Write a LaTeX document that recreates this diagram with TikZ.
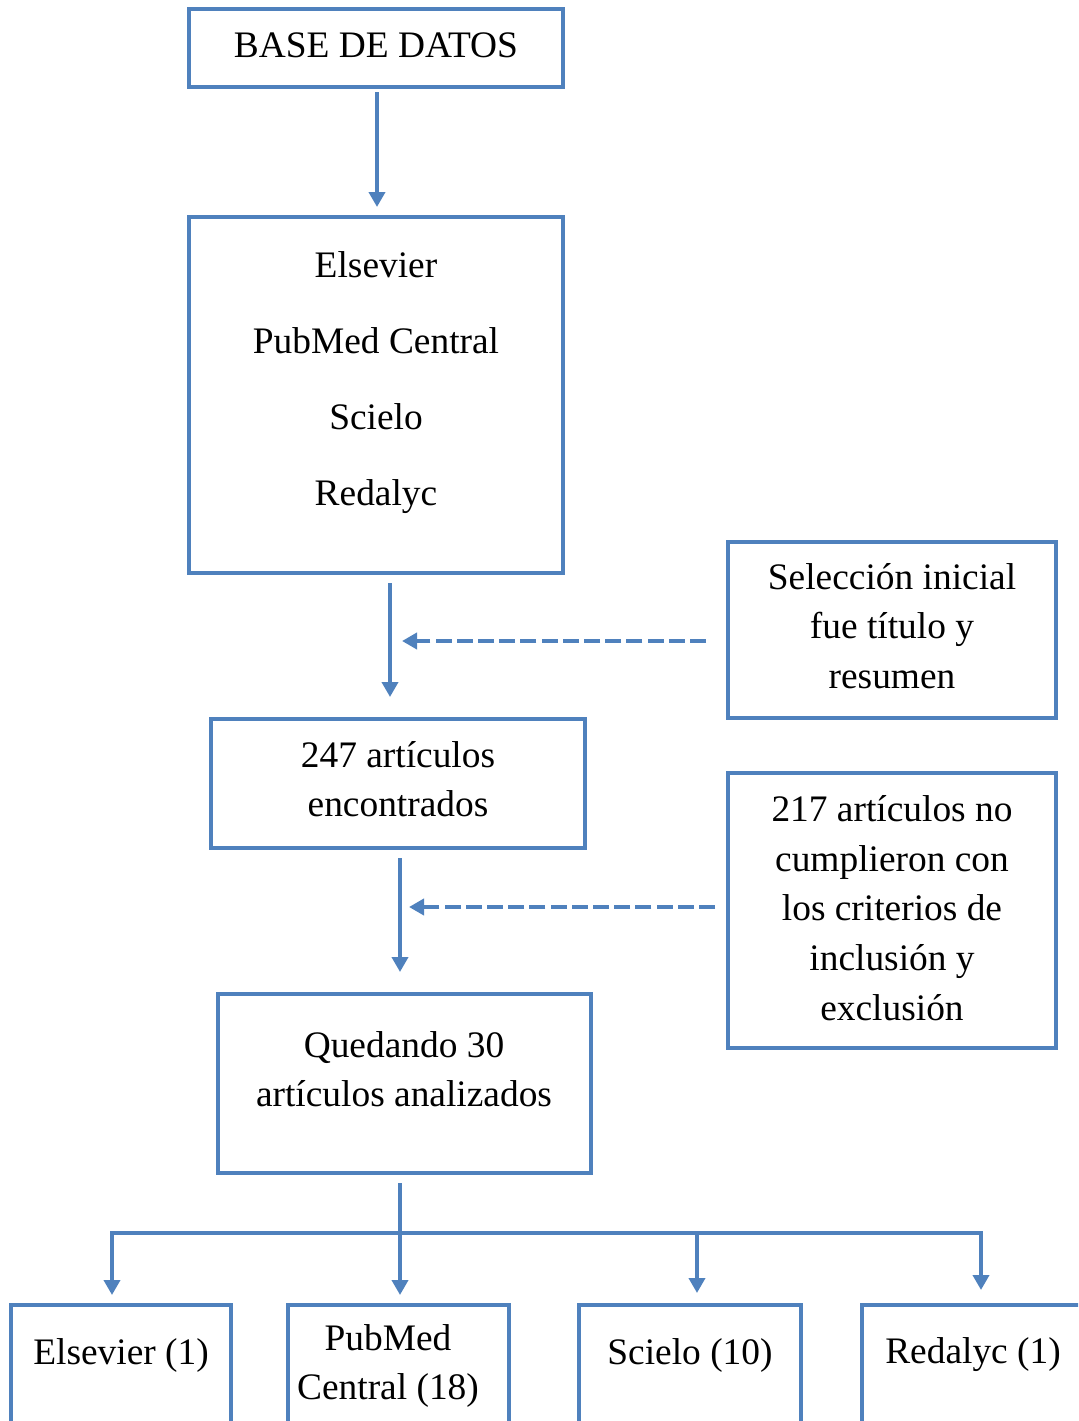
\documentclass[tikz,border=0pt]{standalone}
\usepackage{fontspec}
\setmainfont{Liberation Serif}
\usetikzlibrary{arrows.meta,calc}
\definecolor{boxblue}{RGB}{79,129,189}
\begin{document}
\begin{tikzpicture}[x=0.5pt,y=-0.5pt,
  box/.style={draw=boxblue,line width=2pt,rectangle,inner sep=0pt,outer sep=0pt,fill=white},
  txt/.style={align=center,font=\fontsize{18.7}{24.8}\selectfont,inner sep=0pt},
  conn/.style={draw=boxblue,line width=2pt},
  arr/.style={conn,-{Triangle[width=8pt,length=7.5pt]}},
  darr/.style={conn,line width=2.3pt,dash pattern=on 8pt off 2.6pt,-{Triangle[width=8pt,length=7.5pt]}}
]
\useasboundingbox (0,0) rectangle (1078,1421);
\clip (0,0) rectangle (1078,1421);

% boxes
\node[box,minimum width=187pt,minimum height=39pt] (base) at (376,48) {};
\node[box,minimum width=187pt,minimum height=178pt] (db) at (376,395) {};
\node[box,minimum width=164pt,minimum height=88pt] (sel) at (892,630) {};
\node[box,minimum width=187pt,minimum height=64.5pt] (n247) at (398,783.5) {};
\node[box,minimum width=164pt,minimum height=137.5pt] (crit) at (892,910.5) {};
\node[box,minimum width=186.5pt,minimum height=89.5pt] (qd) at (404.5,1083.5) {};
\node[box,minimum width=110pt,minimum height=90pt] (b1) at (121,1395) {};
\node[box,minimum width=110.5pt,minimum height=90pt] (b2) at (398.5,1395) {};
\node[box,minimum width=111pt,minimum height=90pt] (b3) at (690,1395) {};
\node[box,minimum width=111pt,minimum height=90pt] (b4) at (973,1395) {};

% texts
\node[txt] (tbase) at (376,45) {BASE DE DATOS};
\node[txt,font=\fontsize{18.7}{38}\selectfont] (tdb) at (376,383) {Elsevier\\PubMed Central\\Scielo\\Redalyc};
\node[txt] (tsel) at (892,626) {Selección inicial\\fue título y\\resumen};
\node[txt] (t247) at (398,779) {247 artículos\\encontrados};
\node[txt] (tcrit) at (892,908) {217 artículos no\\cumplieron con\\los criterios de\\inclusión y\\exclusión};
\node[txt] (tqd) at (404,1069) {Quedando 30\\artículos analizados};
\node[txt] (tb1) at (121,1355) {Elsevier (1)};
\node[txt] (tb2) at (388,1366) {PubMed\\Central (18)};
\node[txt] (tb3) at (690,1355) {Scielo (10)};
\node[txt] (tb4) at (973,1355) {Redalyc (1)};

% connectors
\draw[arr] ($(base.south)+(1,5)$) -- ($(db.north)+(1,-10)$);
\draw[arr] ($(db.south)+(14,10)$) -- ($(n247.north)+(-8,-22)$);
\coordinate (s1) at ($(sel.west)+(-22,11)$);
\coordinate (v1) at ($(n247.north)+(4,0)$);
\draw[darr] (s1) -- (s1 -| v1);
\draw[arr] ($(n247.south)+(2,10)$) -- ($(qd.north)+(-4.5,-22)$);
\coordinate (s2) at ($(crit.west)+(-13,-3.5)$);
\coordinate (v2) at ($(n247.south)+(11,0)$);
\draw[darr] (s2) -- (s2 -| v2);
\draw[arr] ($(qd.south)+(-4.5,10)$) -- ($(b2.north)+(1.5,-10)$);
\coordinate (hmid) at ($(b2.north)+(1.5,-72)$);
\draw[conn,{Triangle[width=8pt,length=7.5pt]}-{Triangle[width=8pt,length=7.5pt]}]
  ($(b1.north)+(-9,-10)$) |- (hmid) -| ($(b4.north)+(8,-15)$);
\draw[arr] ($(b3.north)+(7,-72)$) -- ($(b3.north)+(7,-12)$);
\end{tikzpicture}
\end{document}
